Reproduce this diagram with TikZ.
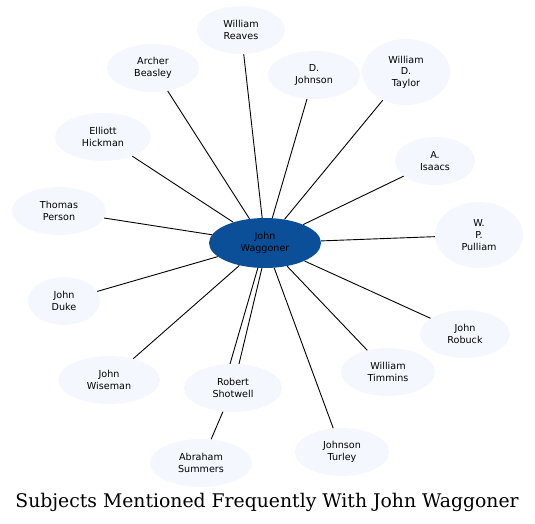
\documentclass[tikz,border=0pt]{standalone}
\usepackage{fontspec}
\setmainfont{DejaVu Sans}
\newfontfamily\titlefont{DejaVu Serif}
\usetikzlibrary{shapes.geometric}
\definecolor{hubblue}{HTML}{0B4F99}
\definecolor{personfill}{HTML}{F4F8FE}
\definecolor{linkgray}{HTML}{000000}

\begin{document}
\begin{tikzpicture}[
  x=1pt,
  y=-1pt,
  person/.style={ellipse, fill=personfill, draw=none, align=center,
    inner sep=0pt, minimum width=92pt, minimum height=48pt,
    font=\fontsize{9.6}{11.6}\selectfont},
  hub/.style={person, fill=hubblue, minimum width=112pt, minimum height=50pt},
  link/.style={draw=linkgray, line width=0.9pt}
]
\useasboundingbox (0,0) rectangle (535,524);

% Central subject
\node[hub] (jwaggoner) at (265,243) {John\\Waggoner};

% Related subjects
\node[person, minimum width=88pt] (wreaves) at (241,30) {William\\Reaves};
\node[person] (abeasley) at (153,68) {Archer\\Beasley};
\node[person] (djohnson) at (314,75) {D.\\Johnson};
\node[person, minimum width=88pt, minimum height=66pt] (wdtaylor) at (406,72)
      {William\\D.\\Taylor};
\node[person, minimum width=96pt] (ehickman) at (103,137) {Elliott\\Hickman};
\node[person, minimum width=80pt] (aisaacs) at (435,161) {A.\\Isaacs};
\node[person, minimum width=94pt] (tperson) at (59,211) {Thomas\\Person};
\node[person, minimum width=88pt, minimum height=66pt] (wppulliam) at (479,235)
      {W.\\P.\\Pulliam};
\node[person, minimum width=72pt] (jduke) at (64,301) {John\\Duke};
\node[person, minimum width=90pt] (jrobuck) at (465,334) {John\\Robuck};
\node[person, minimum width=102pt] (jwiseman) at (109,380) {John\\Wiseman};
\node[person, minimum width=94pt] (wtimmins) at (388,372) {William\\Timmins};
\node[person, minimum width=98pt] (rshotwell) at (233,388) {Robert\\Shotwell};
\node[person, minimum width=94pt] (jturley) at (342,452) {Johnson\\Turley};
\node[person, minimum width=102pt] (asummers) at (201,463) {Abraham\\Summers};

% Spokes
\foreach \other in {wreaves,abeasley,djohnson,wdtaylor,ehickman,aisaacs,
    tperson,wppulliam,jduke,jrobuck,jwiseman,wtimmins,jturley}
  \draw[link] (jwaggoner) -- (\other);
\draw[link] (jwaggoner.254) -- (rshotwell.97);
\draw[link] (jwaggoner.263) -- (rshotwell.76);
\draw[link] (rshotwell) -- (asummers);

% Title
\node[font=\titlefont\fontsize{18.8}{22}\selectfont] (title) at (267,502)
      {Subjects Mentioned Frequently With John Waggoner};
\end{tikzpicture}
\end{document}
